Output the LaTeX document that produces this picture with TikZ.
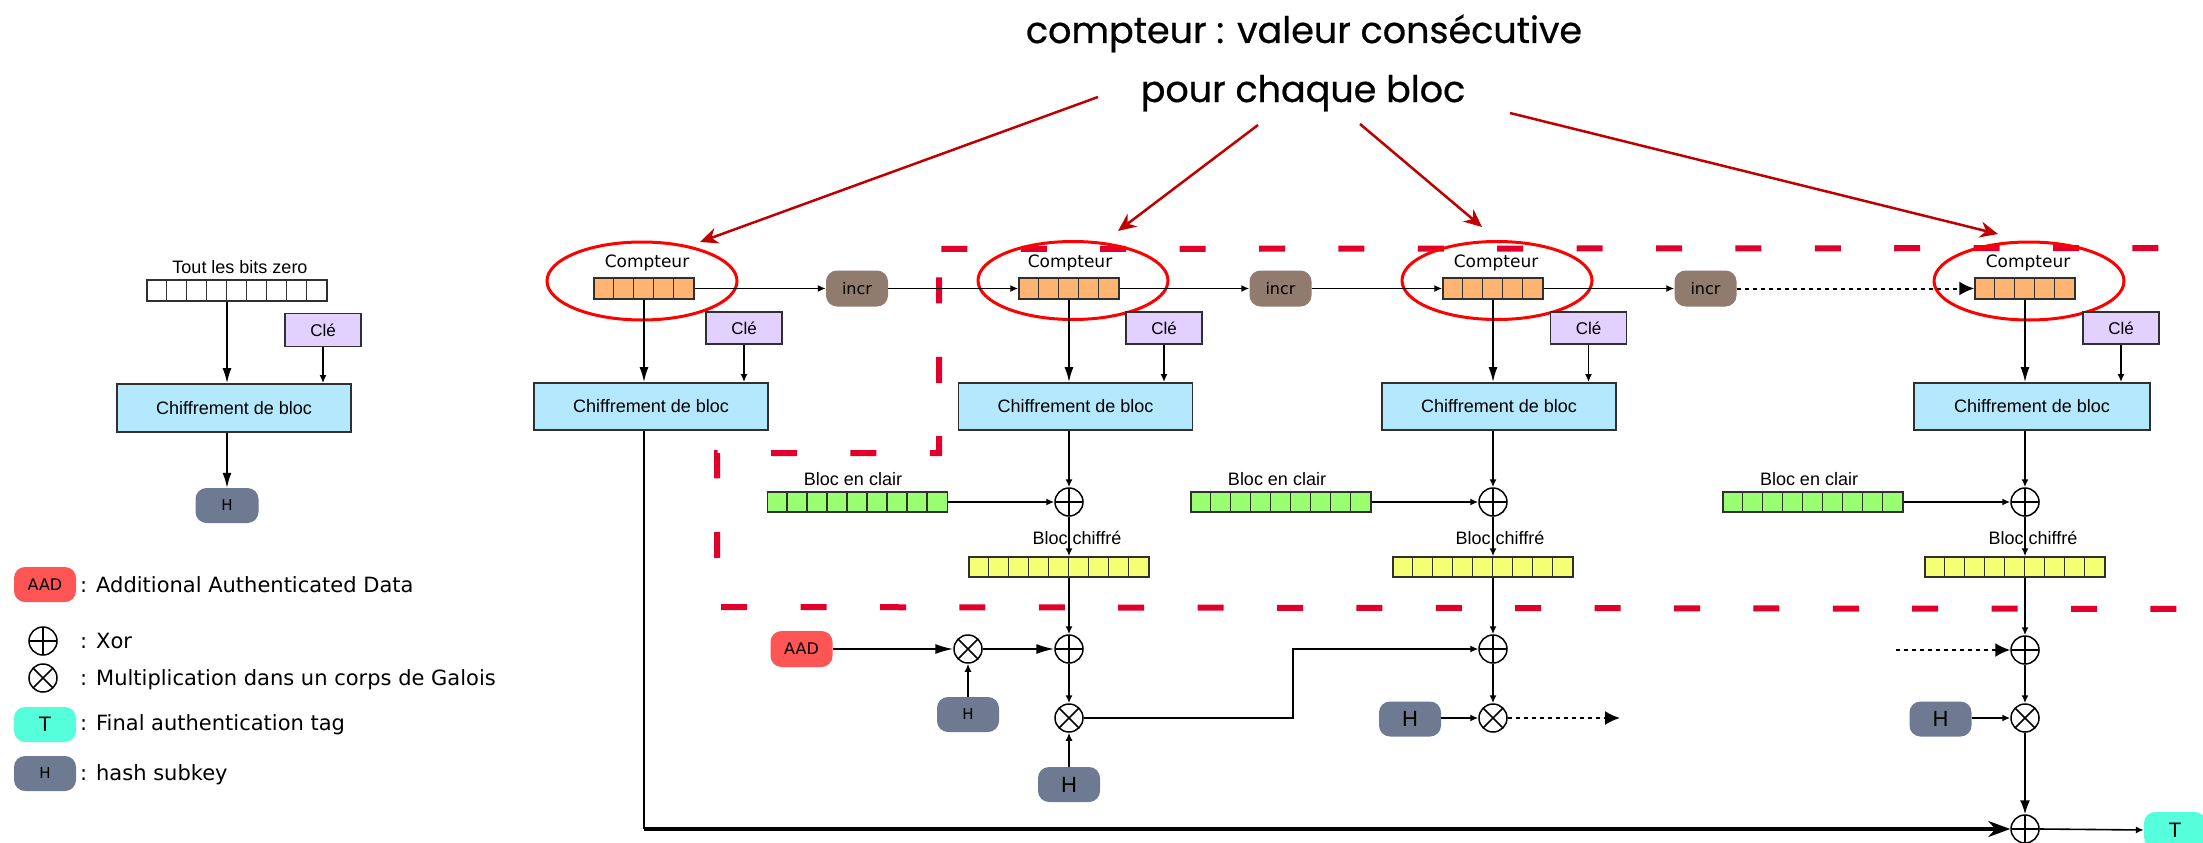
\documentclass[tikz,border=0pt]{standalone}
\usepackage{fontspec}
\setmainfont{DejaVu Sans}
\newfontfamily\dv{DejaVu Sans}
\newfontfamily\lib{Liberation Sans}
\newfontfamily\pop[FakeBold=0.7]{Poppins}
\usetikzlibrary{arrows.meta,shapes.geometric}
\definecolor{chif}{HTML}{B4E8FC}
\definecolor{cle}{HTML}{E2D0FF}
\definecolor{cnt}{HTML}{FFB571}
\definecolor{grn}{HTML}{99FF71}
\definecolor{ylw}{HTML}{F5FF74}
\definecolor{incrc}{HTML}{917B6F}
\definecolor{hc}{HTML}{6E7A91}
\definecolor{aadc}{HTML}{FF5555}
\definecolor{tagc}{HTML}{55FFDC}
\definecolor{dashred}{HTML}{E0002B}
\definecolor{arrred}{HTML}{C00000}
\definecolor{strk}{HTML}{303030}
\newcommand{\mycells}[5]{% name, coord, n, fill, height
  \node[cellbox,fill=#4,minimum width={#3*20pt},minimum height=#5pt] (#1) at (#2) {};
  \pgfmathtruncatemacro\mynm{#3-1}
  \foreach \i in {1,...,\mynm} \draw[draw=strk,line width=1.5pt] ([xshift={\i*20pt}]#1.north west) -- ([xshift={\i*20pt}]#1.south west);
}
\begin{document}
\begin{tikzpicture}[x=1pt,y=-1pt,
 chifbox/.style={draw=strk,line width=1.8pt,fill=chif,minimum width=234pt,minimum height=47pt,inner sep=0pt,font=\lib\fontsize{18}{20}\selectfont},
 clebox/.style={draw=strk,line width=1.8pt,fill=cle,minimum width=76pt,minimum height=32pt,inner sep=0pt,font=\lib\fontsize{17}{20}\selectfont},
 cellbox/.style={draw=strk,line width=1.5pt,inner sep=0pt},
 pill/.style={rounded corners=11pt,minimum width=62pt,minimum height=36pt,inner sep=0pt,font=\dv\fontsize{16}{18}\selectfont},
 incrbox/.style={pill,fill=incrc},
 hbox/.style={pill,fill=hc,font=\dv\fontsize{15}{18}\selectfont},
 hbig/.style={pill,fill=hc,font=\lib\fontsize{22}{24}\selectfont},
 aadbox/.style={pill,fill=aadc},
 tagbox/.style={pill,fill=tagc,font=\lib\fontsize{21}{24}\selectfont},
 xorn/.style={circle,draw=black,line width=1.5pt,minimum size=28pt,inner sep=0pt,
   path picture={\draw[line width=1.5pt] (path picture bounding box.north)--(path picture bounding box.south) (path picture bounding box.east)--(path picture bounding box.west);}},
 muln/.style={circle,draw=black,line width=1.5pt,minimum size=28pt,inner sep=0pt,
   path picture={\draw[line width=1.5pt] ([shift={(-10pt,-10pt)}]path picture bounding box.center)--([shift={(10pt,10pt)}]path picture bounding box.center) ([shift={(-10pt,10pt)}]path picture bounding box.center)--([shift={(10pt,-10pt)}]path picture bounding box.center);}},
 ring/.style={ellipse,draw=red,line width=3pt,minimum width=190pt,minimum height=78pt,inner sep=0pt},
 cntlbl/.style={inner sep=0pt,font=\dv\fontsize{17}{20}\selectfont},
 blbl/.style={inner sep=0pt,font=\lib\fontsize{18}{20}\selectfont},
 legtxt/.style={anchor=base west,inner sep=0pt,font=\dv\fontsize{21}{24}\selectfont},
 conn/.style={line width=1.6pt,draw=black},
 sa/.style={conn,-{Latex[length=8pt,width=7pt]}},
 ba/.style={conn,-{Latex[length=15pt,width=9pt]}},
 la/.style={conn,-{Latex[length=18pt,width=10pt]}},
 dota/.style={line width=2pt,dash pattern=on 4pt off 4pt,-{Latex[length=15pt,width=14pt]}},
 redarr/.style={draw=arrred,line width=2.5pt,-{Stealth[length=18pt,width=16pt]}},
 reddash/.style={draw=dashred,line width=6pt,dash pattern=on 26pt off 53.4pt},
 ttl/.style={anchor=base,inner sep=0pt,font=\pop\fontsize{36.5}{40}\selectfont}
]
\useasboundingbox (0,0) rectangle (2203,843);

% red dashed boundary
\draw[reddash,dash phase=77pt] (939,249) -- (2210,248);
\draw[reddash,dash phase=51pt] (939,249) -- (939,453) -- (717,453) -- (717,607) -- (2210,609);

% title
\node[ttl] (title1) at (1304,43) {compteur : valeur consécutive};
\node[ttl] (title2) at (1303,102) {pour chaque bloc};

% ---------- left: hash subkey generation ----------
\node[blbl] (tz) at (240,267) {Tout les bits zero};
\mycells{z}{237,290.5}{9}{white}{21}
\node[clebox,minimum height=33pt] (kz) at (323,330) {Clé};
\node[chifbox,minimum height=48pt] (chz) at (234,408) {Chiffrement de bloc};
\node[hbox,minimum width=63pt,minimum height=35pt] (hz) at (227,505.5) {H};
\draw[ba] (hz |- z.south) -- (hz |- chz.north);
\draw[sa] (kz.south) -- (kz.south |- chz.north);
\draw[ba] (hz |- chz.south) -- (hz.north);

% ---------- legend ----------
\node[aadbox,minimum height=35pt] (lgaad) at (45,584.5) {AAD};
\node[legtxt] (lgt1) at (80,592) {: Additional Authenticated Data};
\node[xorn] (lgxor) at (43,641) {};
\node[legtxt] (lgt2) at (80,648) {: Xor};
\node[muln] (lgmul) at (43,678) {};
\node[legtxt] (lgt3) at (80,685) {: Multiplication dans un corps de Galois};
\node[tagbox,minimum height=35pt] (lgtag) at (45,724.5) {T};
\node[legtxt] (lgt4) at (80,730) {: Final authentication tag};
\node[hbox,minimum height=35pt] (lgh) at (45,773.5) {H};
\node[legtxt] (lgt5) at (80,780) {: hash subkey};

% ---------- counters ----------
\node[ring] (e1) at (642,281) {};
\node[ring] (e2) at (1073,280.5) {};
\node[ring] (e3) at (1497,280.5) {};
\node[ring] (e4) at (2029,281) {};
\node[cntlbl] (ct1) at (647,263) {Compteur};
\node[cntlbl] (ct2) at (1070,263) {Compteur};
\node[cntlbl] (ct3) at (1496,263) {Compteur};
\node[cntlbl] (ct4) at (2028,263) {Compteur};
\mycells{c1}{644,288.5}{5}{cnt}{21}
\mycells{c2}{1069,288.5}{5}{cnt}{21}
\mycells{c3}{1493,288.5}{5}{cnt}{21}
\mycells{c4}{2025,288.5}{5}{cnt}{21}
\node[incrbox] (i1) at (857,288.5) {incr};
\node[incrbox] (i2) at (1280.5,288.5) {incr};
\node[incrbox] (i3) at (1705.5,288.5) {incr};
\draw[sa] (c1.east) -- (i1.west);
\draw[sa] (i1.east) -- (c2.west);
\draw[sa] (c2.east) -- (i2.west);
\draw[sa] (i2.east) -- (c3.west);
\draw[sa] (c3.east) -- (i3.west);
\draw[dota] (i3.east) -- (c4.west);

% keys and block ciphers
\node[clebox] (k1) at (744,328) {Clé};
\node[clebox] (k2) at (1164,328) {Clé};
\node[clebox] (k3) at (1588.5,328) {Clé};
\node[clebox] (k4) at (2121,328) {Clé};
\node[chifbox] (ch1) at (651,406.5) {Chiffrement de bloc};
\node[chifbox] (ch2) at (1075.5,406.5) {Chiffrement de bloc};
\node[chifbox] (ch3) at (1499,406.5) {Chiffrement de bloc};
\node[chifbox,minimum width=236pt] (ch4) at (2032,406.5) {Chiffrement de bloc};
\foreach \n in {1,2,3,4}{
  \draw[ba] (c\n.south) -- (c\n.south |- ch\n.north);
  \draw[sa] (k\n.south) -- (k\n.south |- ch\n.north);
}

% plaintext / ciphertext
\node[blbl] (pt2) at (853,479) {Bloc en clair};
\node[blbl] (pt3) at (1277,479) {Bloc en clair};
\node[blbl] (pt4) at (1809,479) {Bloc en clair};
\mycells{g2}{857.5,502}{9}{grn}{20}
\mycells{g3}{1281,502}{9}{grn}{20}
\mycells{g4}{1813,502}{9}{grn}{20}
\node[xorn] (xa2) at (1069,502) {};
\node[xorn] (xa3) at (1493,502) {};
\node[xorn] (xa4) at (2025,502) {};
\node[blbl] (bc2) at (1077,538) {Bloc chiffré};
\node[blbl] (bc3) at (1500,538) {Bloc chiffré};
\node[blbl] (bc4) at (2033,538) {Bloc chiffré};
\mycells{y2}{1059,567}{9}{ylw}{20}
\mycells{y3}{1483,567}{9}{ylw}{20}
\mycells{y4}{2015,567}{9}{ylw}{20}
\node[xorn] (xb2) at (1069,649) {};
\node[xorn] (xb3) at (1493,649) {};
\node[xorn] (xb4) at (2025,650) {};
\foreach \n in {2,3,4}{
  \draw[sa] (xa\n |- ch\n.south) -- (xa\n.north);
  \draw[sa] (g\n.east) -- (xa\n.west);
  \draw[sa] (xa\n.south) -- (xa\n |- y\n.north);
  \draw[sa] (xa\n |- y\n.south) -- (xb\n.north);
}

% GHASH part
\node[aadbox] (aad) at (801.5,649) {AAD};
\node[muln] (ma) at (968,649) {};
\node[hbox,minimum height=35pt] (ha) at (968,714.5) {H};
\node[muln] (m2) at (1069,718) {};
\node[hbig,minimum height=35pt] (h2) at (1069,784.5) {H};
\node[muln] (m3) at (1493,718) {};
\node[hbig,minimum height=35pt] (h3) at (1410,719) {H};
\node[muln] (m4) at (2025,718) {};
\node[hbig,minimum height=35pt] (h4) at (1940.5,719) {H};
\node[xorn] (fx) at (2025,829) {};
\node[tagbox] (tag) at (2175,830) {T};
\coordinate (r1) at (1293,718);
\coordinate (d3) at (1620,718);
\coordinate (d4) at (1896,650);
\coordinate (bl) at (644,829);

\draw[la] (aad.east) -- (ma.west);
\draw[la] (ma.east) -- (xb2.west);
\draw[sa] (ha.north) -- (ma.south);
\draw[sa] (xb2.south) -- (m2.north);
\draw[sa] (h2.north) -- (m2.south);
\draw[sa,line width=1.2pt] (m2.east) -- (r1) |- (xb3.west);
\draw[sa] (xb3.south) -- (m3.north);
\draw[sa] (h3.east |- m3) -- (m3.west);
\draw[dota] (m3.east) -- (d3);
\draw[dota] (d4) -- (xb4.west);
\draw[sa] (xb4.south) -- (m4.north);
\draw[sa] (h4.east |- m4) -- (m4.west);
\draw[conn,-{Latex[length=14pt,width=10pt]}] (m4.south) -- (fx.north);
\draw[conn] (c1.south |- ch1.south) -- (bl);
\draw[line width=3.2pt,-{Stealth[length=22pt,width=16pt]}] (bl) -- (fx.west);
\draw[sa] (fx.east) -- (tag.west);

% red annotation arrows
\coordinate (s1) at (1098,97);
\coordinate (s2) at (1258,125);
\coordinate (s3) at (1360,124);
\coordinate (s4) at (1510,113);
\coordinate (a1) at (700,242);
\coordinate (a2) at (1118,231);
\coordinate (a3) at (1482,227);
\coordinate (a4) at (1998,234);
\draw[redarr] (s1) -- (a1);
\draw[redarr] (s2) -- (a2);
\draw[redarr] (s3) -- (a3);
\draw[redarr] (s4) -- (a4);
\end{tikzpicture}
\end{document}
